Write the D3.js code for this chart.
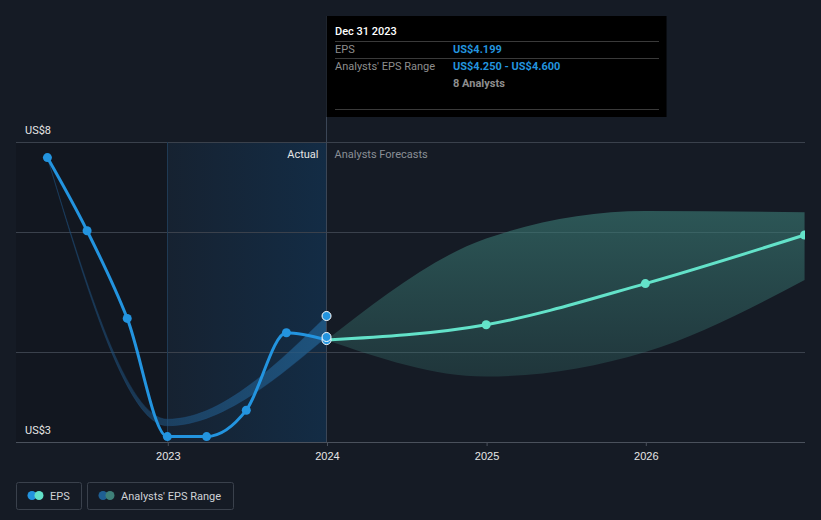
<!DOCTYPE html>
<html><head><meta charset="utf-8">
<script src="https://cdn.jsdelivr.net/npm/d3@7"></script>
<style>
html,body{margin:0;padding:0;background:#151b25;}
svg{display:block;font-family:Roboto,"Noto Sans",sans-serif;}
</style></head>
<body><svg id="c" width="821" height="520"></svg>
<script>
// ---- data ----
const actualDates = ["2022-03-31","2022-06-30","2022-09-30","2022-12-31","2023-03-31","2023-06-30","2023-09-30","2023-12-31"];
const actualEPS   = [7.24, 6.02, 4.56, 2.59, 2.59, 3.03, 4.32, 4.199];
const pastRangeDates = ["2022-03-31","2022-12-31","2023-12-31"];
const pastRangeLow   = [7.24, 2.77, 4.25];
const pastRangeHigh  = [7.24, 2.88, 4.60];
const forecastDates = ["2023-12-31","2024-12-31","2025-12-31","2026-12-31"];
const forecastEPS   = [4.199, 4.455, 5.14, 5.95];
const forecastLow   = [4.199, 3.59, 4.00, 5.20];
const forecastHigh  = [4.199, 5.89, 6.35, 6.33];
const yearTicks = ["2023-01-01","2024-01-01","2025-01-01","2026-01-01"];
const yGridValues = [4, 6, 7.5];
const yLabelValues = [7.5, 2.5];
const yLabels = ["US$8","US$3"];
const tooltipDate = "Dec 31 2023";
const tooltipRows = [["EPS","US$4.199"],["Analysts' EPS Range","US$4.250 - US$4.600"],["","8 Analysts"]];
const legendItems = ["EPS","Analysts' EPS Range"];

const P = s => new Date(s);
const svg = d3.select("#c");
const L = 16, R = 805, T = 142, B = 442;
const x = d3.scaleUtc().domain([P("2022-01-18"), P("2027-01-01")]).range([L, R]);
const y = d3.scaleLinear().domain([2.5, 7.5]).range([B, T]);

const defs = svg.append("defs");
defs.append("clipPath").attr("id","plot").append("rect").attr("x",L).attr("y",0).attr("width",R-L).attr("height",B);
const g1 = defs.append("linearGradient").attr("id","act").attr("x1",0).attr("x2",1).attr("y1",0).attr("y2",0);
g1.append("stop").attr("offset",0).attr("stop-color","#162231");
g1.append("stop").attr("offset",1).attr("stop-color","#132c45");
const g2 = defs.append("linearGradient").attr("id","fc").attr("x1",0).attr("x2",0).attr("y1",0).attr("y2",1);
g2.append("stop").attr("offset",0).attr("stop-color","#3a7a74").attr("stop-opacity",0.62);
g2.append("stop").attr("offset",1).attr("stop-color","#3a7a74").attr("stop-opacity",0.28);
const g3 = defs.append("linearGradient").attr("id","pb").attr("x1",0).attr("x2",1).attr("y1",0).attr("y2",0);
g3.append("stop").attr("offset",0).attr("stop-color","#1f4f7a").attr("stop-opacity",0.45);
g3.append("stop").attr("offset",1).attr("stop-color","#226090").attr("stop-opacity",0.75);

// regions
const x23 = x(P("2023-01-01")), xNow = x(P("2023-12-31"));
svg.append("rect").attr("x",L).attr("y",T).attr("width",x23-L).attr("height",B-T).attr("fill","#000").attr("opacity",0.12);
svg.append("rect").attr("x",x23).attr("y",T).attr("width",xNow-x23).attr("height",B-T).attr("fill","url(#act)");

// grid
svg.append("g").selectAll("line").data(yGridValues).join("line")
  .attr("x1",L).attr("x2",R).attr("y1",d=>y(d)).attr("y2",d=>y(d))
  .attr("stroke","#3a414c").attr("stroke-width",1).attr("shape-rendering","crispEdges");
svg.append("line").attr("x1",x23).attr("x2",x23).attr("y1",T).attr("y2",B).attr("stroke","#1f3a54").attr("shape-rendering","crispEdges");

// x axis
const ax = svg.append("g").attr("transform",`translate(0,${B})`)
  .call(d3.axisBottom(x).tickValues(yearTicks.map(P)).tickFormat(d3.utcFormat("%Y")).tickSize(4).tickPadding(6));
ax.select(".domain").attr("d",`M${L},0.5H${R}`).attr("stroke","#4a515c");
ax.selectAll(".tick line").attr("stroke","#4a515c");
ax.selectAll("text").attr("fill","#e6e6e6").attr("font-size",11);

// y labels
svg.append("g").selectAll("text").data(yLabelValues).join("text")
  .attr("x",25).attr("y",d=>y(d)-8).attr("fill","#e6e6e6").attr("font-size",11)
  .text((d,i)=>yLabels[i]);

const plot = svg.append("g").attr("clip-path","url(#plot)");
const curve = d3.curveMonotoneX;

// past range band
const pastBand = pastRangeDates.map((d,i)=>({d:P(d),lo:pastRangeLow[i],hi:pastRangeHigh[i]}));
plot.append("path").datum(pastBand)
  .attr("d", d3.area().curve(curve).x(d=>x(d.d)).y0(d=>y(d.lo)).y1(d=>y(d.hi)))
  .attr("fill","url(#pb)").attr("stroke","#1f4f7a").attr("stroke-opacity",0.45).attr("stroke-width",0.8);

// forecast band
const fcBand = forecastDates.map((d,i)=>({d:P(d),lo:forecastLow[i],hi:forecastHigh[i]}));
plot.append("path").datum(fcBand)
  .attr("d", d3.area().curve(curve).x(d=>x(d.d)).y0(d=>y(d.lo)).y1(d=>y(d.hi)))
  .attr("fill","url(#fc)");

// labels Actual / Analysts Forecasts
svg.append("text").attr("x",xNow-8).attr("y",158).attr("text-anchor","end").attr("fill","#e6e6e6").attr("font-size",11).text("Actual");
svg.append("text").attr("x",xNow+8).attr("y",158).attr("fill","#8a8f96").attr("font-size",11).text("Analysts Forecasts");

// hover line
svg.append("line").attr("x1",xNow).attr("x2",xNow).attr("y1",16).attr("y2",B).attr("stroke","#3b4656").attr("shape-rendering","crispEdges");

// actual line
const act = actualDates.map((d,i)=>({d:P(d),v:actualEPS[i]}));
plot.append("path").datum(act).attr("d",d3.line().curve(curve).x(d=>x(d.d)).y(d=>y(d.v)))
  .attr("fill","none").attr("stroke","#2394df").attr("stroke-width",3);
plot.append("g").selectAll("circle").data(act.slice(0,-1)).join("circle")
  .attr("cx",d=>x(d.d)).attr("cy",d=>y(d.v)).attr("r",4.5).attr("fill","#2394df");

// forecast line
const fc = forecastDates.map((d,i)=>({d:P(d),v:forecastEPS[i]}));
plot.append("path").datum(fc).attr("d",d3.line().curve(curve).x(d=>x(d.d)).y(d=>y(d.v)))
  .attr("fill","none").attr("stroke","#63e2c9").attr("stroke-width",3);
plot.append("g").selectAll("circle").data(fc.slice(1)).join("circle")
  .attr("cx",d=>x(d.d)).attr("cy",d=>y(d.v)).attr("r",4.5).attr("fill","#63e2c9");

// hover markers
svg.append("g").selectAll("circle").data([forecastEPS[0], pastRangeLow[2], pastRangeHigh[2]]).join("circle")
  .attr("cx",xNow).attr("cy",d=>y(d)).attr("r",4.5).attr("fill","#2394df").attr("stroke","#ffffff").attr("stroke-width",1);

// tooltip
const tt = svg.append("g");
tt.append("rect").attr("x",xNow).attr("y",16).attr("width",340).attr("height",101).attr("fill","#000");
tt.append("text").attr("x",335).attr("y",35).attr("fill","#fff").attr("font-size",11).attr("font-weight",500).text(tooltipDate);
[41,58,109].forEach(yy=>tt.append("line").attr("x1",335).attr("x2",659).attr("y1",yy+0.5).attr("y2",yy+0.5).attr("stroke","#3a3a3a"));
tooltipRows.forEach((r,i)=>{
  const yy = 53 + i*17;
  tt.append("text").attr("x",335).attr("y",yy).attr("fill","#8e8e8e").attr("font-size",11).text(r[0]);
  tt.append("text").attr("x",453).attr("y",yy).attr("fill", i===2?"#8e8e8e":"#2394df").attr("font-size",11).attr("font-weight",700).text(r[1]);
});

// legend
const lg = svg.append("g");
const boxes = [{x:16,w:65,c1:"#2394df",c2:"#63e2c9"},{x:87,w:146,c1:"#1f5f93",c2:"#3e8078"}];
boxes.forEach((b,i)=>{
  lg.append("rect").attr("x",b.x+0.5).attr("y",482.5).attr("width",b.w).attr("height",27).attr("rx",2)
    .attr("fill","none").attr("stroke","#3a414c");
  lg.append("circle").attr("cx",b.x+16).attr("cy",495.5).attr("r",4.5).attr("fill",b.c1);
  lg.append("circle").attr("cx",b.x+23).attr("cy",495.5).attr("r",4.5).attr("fill",b.c2);
  lg.append("text").attr("x",b.x+34).attr("y",499.5).attr("fill","#cfd2d6").attr("font-size",11).text(legendItems[i]);
});
</script></body></html>
